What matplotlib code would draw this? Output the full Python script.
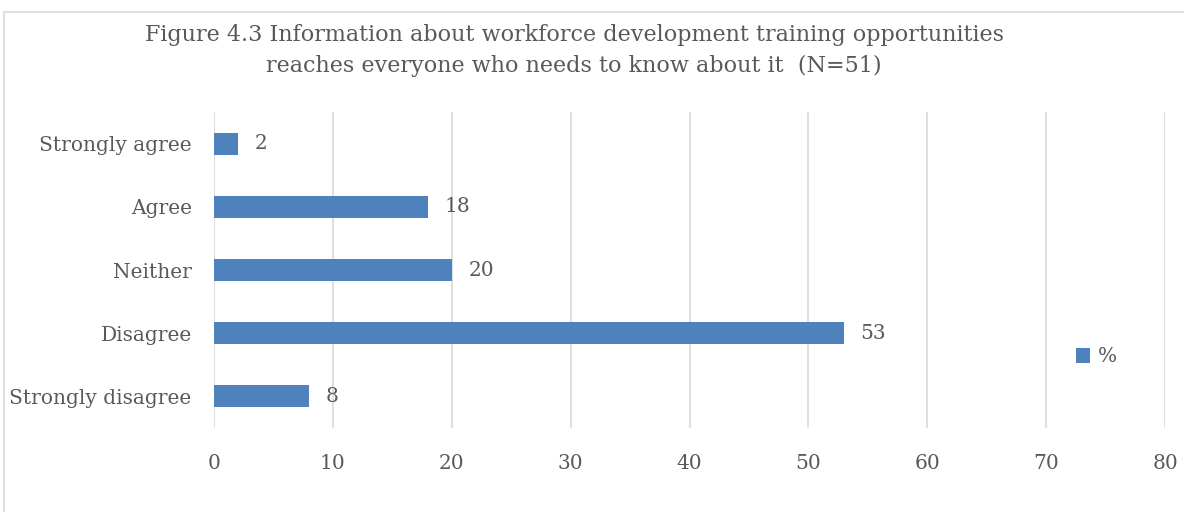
import matplotlib.pyplot as plt
import matplotlib.patches as mpatches

categories = ['Strongly disagree', 'Disagree', 'Neither', 'Agree', 'Strongly agree']
values = [8, 53, 20, 18, 2]
xticks = [0, 10, 20, 30, 40, 50, 60, 70, 80]

title = ('Figure 4.3 Information about workforce development training opportunities\n'
         'reaches everyone who needs to know about it  (N=51)')

bar_color = '#4F81BD'
text_color = '#595959'
grid_color = '#D9D9D9'

plt.rcParams['font.family'] = ['DejaVu Serif']

fig = plt.figure(figsize=(11.84, 5.12), dpi=100)
ax = fig.add_axes([0.1807, 0.164, 0.8033, 0.617])

# chart frame
frame = mpatches.Rectangle((4 / 1184, -0.1), 1.2, (512 - 12) / 512 + 0.1,
                           transform=fig.transFigure, fill=False,
                           edgecolor=grid_color, linewidth=1.2, clip_on=False)
fig.patches.append(frame)

y = list(range(len(categories)))
bars = ax.barh(y, values, height=0.35, color=bar_color, zorder=3, label='%')

for yi, v in zip(y, values):
    ax.annotate(str(v), (v, yi), xytext=(12, 0), textcoords='offset points',
                va='center', ha='left', fontsize=14.5, color=text_color)

ax.set_xlim(0, 80)
ax.set_ylim(-0.5, 4.5)
ax.set_xticks(xticks)
ax.set_yticks(y)
ax.set_yticklabels(categories)
ax.tick_params(axis='both', length=0, labelsize=14.5, labelcolor=text_color)
ax.tick_params(axis='x', pad=19)
ax.tick_params(axis='y', pad=16)
ax.grid(axis='x', color=grid_color, linewidth=1.2, zorder=0)
for s in ax.spines.values():
    s.set_visible(False)

fig.text(0.485, 0.953, title, ha='center', va='top', fontsize=16,
         color=text_color, linespacing=1.5)

fig.legend(handles=[bars], labels=['%'], loc='center left',
           bbox_to_anchor=(1058 / 1184, 1 - 357 / 512), frameon=False,
           fontsize=14.5, handlelength=0.7, handleheight=0.7, handletextpad=0.4,
           labelcolor=text_color)

fig.savefig('out.png', dpi=100)
